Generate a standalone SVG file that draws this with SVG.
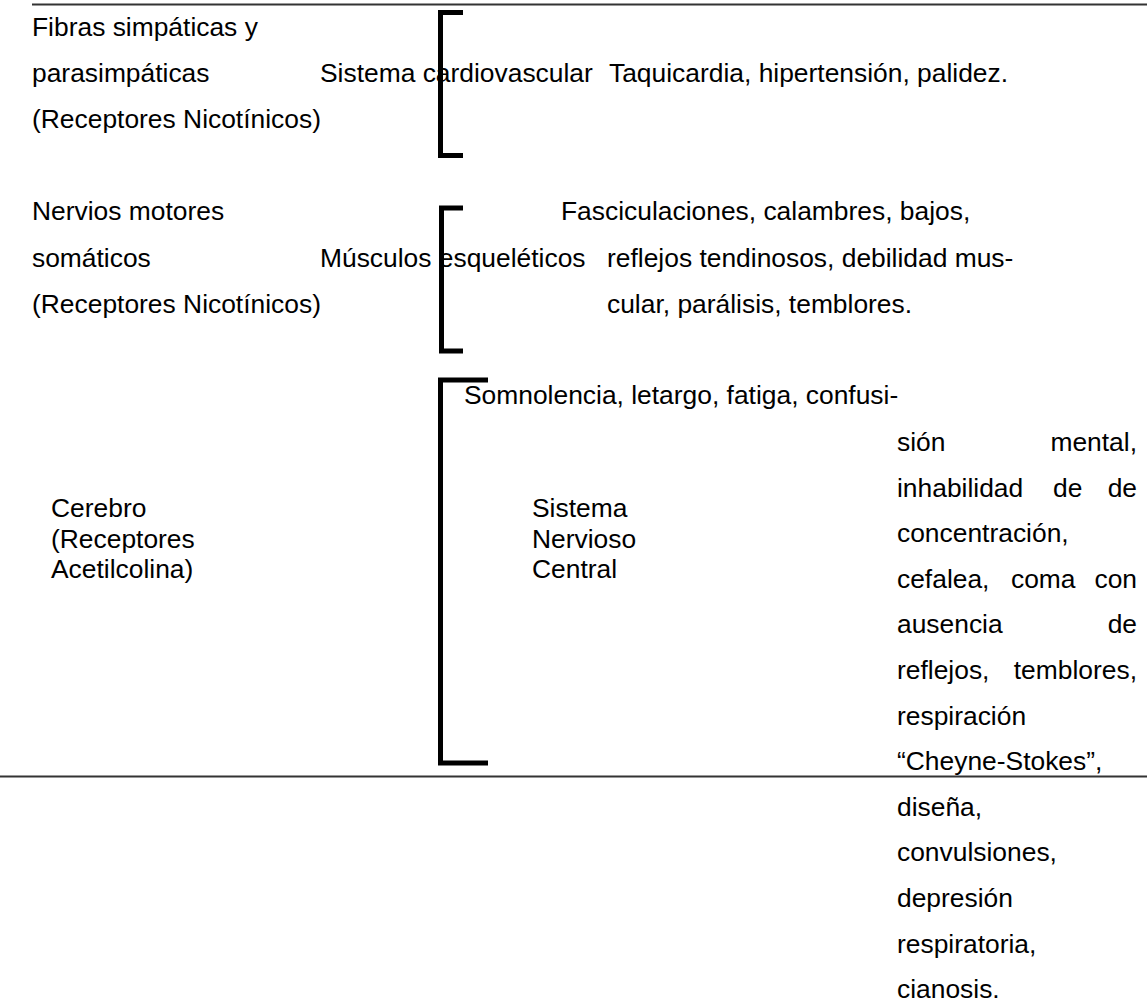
<svg xmlns="http://www.w3.org/2000/svg" width="1147" height="1006" viewBox="0 0 1147 1006">
<style>
text{font-family:"Liberation Sans",Arial,sans-serif;font-size:26.4px;fill:#000}
.rule{stroke:#333;stroke-width:2;fill:none}
.br{stroke:#000;stroke-width:5;fill:none;stroke-linejoin:miter}
</style>
<rect width="1147" height="1006" fill="#fff"/>
<g id="rules">
<line class="rule" x1="32" y1="4.5" x2="1147" y2="4.5"/>
<line class="rule" x1="0" y1="776.5" x2="1147" y2="776.5"/>
</g>
<g id="connectors">
<path class="br" d="M463 12.5 H440.5 V155.5 H463"/>
<path class="br" d="M463 208 H441.5 V351 H463"/>
<path class="br" d="M488 380 H440.5 V763 H488"/>
</g>
<g id="row1-origin">
<text x="32" y="36">Fibras simpáticas y</text>
<text x="32" y="82">parasimpáticas</text>
<text x="32" y="128">(Receptores Nicotínicos)</text>
</g>
<g id="row1-system"><text x="320" y="82">Sistema cardiovascular</text></g>
<g id="row1-effects"><text x="609" y="82">Taquicardia, hipertensión, palidez.</text></g>
<g id="row2-origin">
<text x="32" y="220">Nervios motores</text>
<text x="32" y="267">somáticos</text>
<text x="32" y="313">(Receptores Nicotínicos)</text>
</g>
<g id="row2-system"><text x="320" y="267">Músculos esqueléticos</text></g>
<g id="row2-effects">
<text x="561" y="220">Fasciculaciones, calambres, bajos,</text>
<text x="607" y="267">reflejos tendinosos, debilidad mus-</text>
<text x="607" y="313">cular, parálisis, temblores.</text>
</g>
<g id="row3-origin">
<text x="51" y="517">Cerebro</text>
<text x="51" y="548">(Receptores</text>
<text x="51" y="578">Acetilcolina)</text>
</g>
<g id="row3-system">
<text x="532" y="517">Sistema</text>
<text x="532" y="548">Nervioso</text>
<text x="532" y="578">Central</text>
</g>
<g id="row3-effects">
<text x="464" y="404">Somnolencia, letargo, fatiga, confusi-</text>
<text x="897" y="451">sión</text><text x="1137" y="451" text-anchor="end">mental,</text>
<text x="897" y="496.6">inhabilidad</text><text x="1053" y="496.6">de</text><text x="1137" y="496.6" text-anchor="end">de</text>
<text x="897" y="542.2">concentración,</text>
<text x="897" y="587.8">cefalea,</text><text x="1011" y="587.8">coma</text><text x="1137" y="587.8" text-anchor="end">con</text>
<text x="897" y="633.4">ausencia</text><text x="1137" y="633.4" text-anchor="end">de</text>
<text x="897" y="679">reflejos,</text><text x="1137" y="679" text-anchor="end">temblores,</text>
<text x="897" y="724.6">respiración</text>
<text x="897" y="770.2">“Cheyne-Stokes”,</text>
<text x="897" y="815.8">diseña,</text>
<text x="897" y="861.4">convulsiones,</text>
<text x="897" y="907">depresión</text>
<text x="897" y="952.6">respiratoria,</text>
<text x="897" y="998.2">cianosis.</text>
</g>
</svg>
